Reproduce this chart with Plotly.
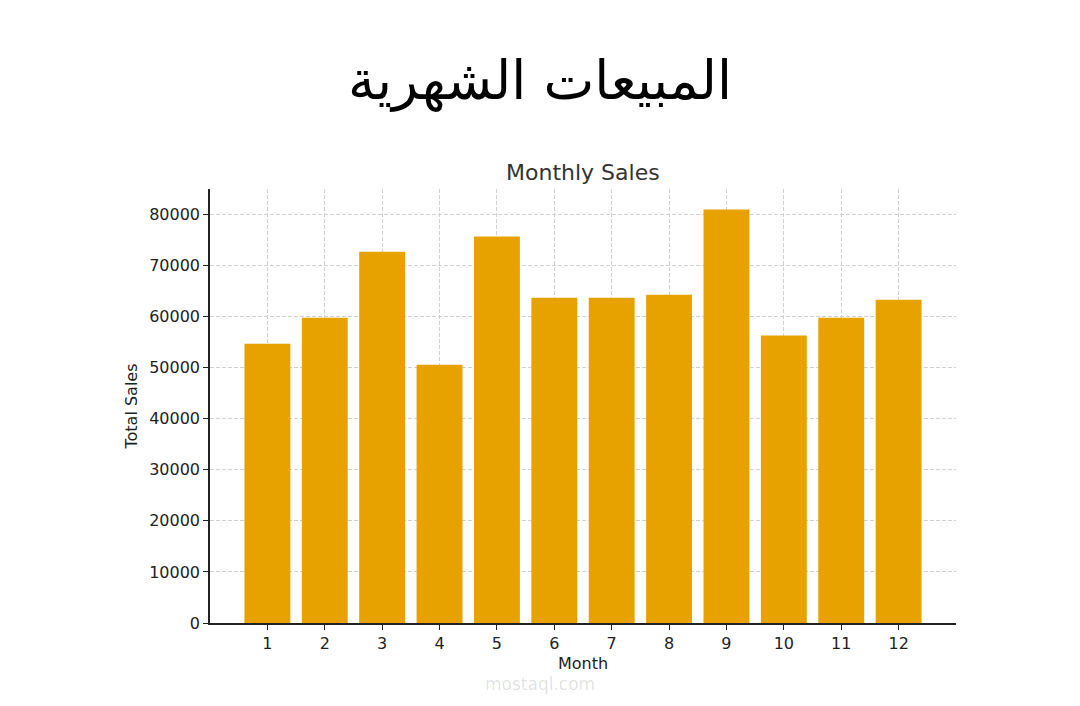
import plotly.graph_objects as go

months = list(range(1, 13))
sales = [54700, 59800, 72700, 50600, 75700, 63700, 63700, 64300, 81000, 56300, 59800, 63300]
yticks = list(range(0, 80001, 10000))
ylabels = [str(v) for v in yticks]

OFF = 8  # page body margin
L, R, T, B = 210 - OFF, 124 + OFF, 189 - OFF, 83 + OFF

fig = go.Figure(go.Bar(x=months, y=sales, width=0.8, marker_color="#E8A200", marker_line_width=0))
grid = dict(showgrid=True, gridcolor="#d0d0d0", griddash="4px,2px", gridwidth=1)
fig.update_layout(
    width=1080, height=706, paper_bgcolor="white", plot_bgcolor="white",
    margin=dict(l=L, r=R, t=T, b=B), showlegend=False,
    font=dict(family="DejaVu Sans", color="#222", size=16),
    xaxis=dict(range=[0, 13], tickvals=months, ticks="outside", ticklen=5, tickcolor="#222",
               showline=True, linecolor="#222", linewidth=1.5, zeroline=False,
               title=dict(text="Month", font=dict(size=16), standoff=6), **grid),
    yaxis=dict(range=[0, 85000], tickvals=yticks, ticktext=ylabels, ticks="outside", ticklen=5,
               tickcolor="#222", showline=True, linecolor="#222", linewidth=1.5, zeroline=False,
               title=dict(text="Total Sales", font=dict(size=16), standoff=8), **grid),
)
pw, ph = 1080 - L - R, 706 - T - B
def px(x):
    return (x - OFF - L) / pw
def py(y):
    return (706 - B - (y - OFF)) / ph
fig.update_layout(annotations=[
    dict(text="المبيعات الشهرية", x=px(540), y=py(80), xref="paper", yref="paper",
         xanchor="center", yanchor="middle", showarrow=False,
         font=dict(size=54, color="black", family="DejaVu Sans")),
    dict(text="Monthly Sales", x=px(583), y=py(172), xref="paper", yref="paper",
         xanchor="center", yanchor="middle", showarrow=False, font=dict(size=22, color="#333")),
    dict(text="mostaql.com", x=px(540), y=py(684), xref="paper", yref="paper",
         xanchor="center", yanchor="middle", showarrow=False,
         font=dict(size=17, color="rgba(0,0,0,0.13)")),
])
fig.write_html("out.html")
